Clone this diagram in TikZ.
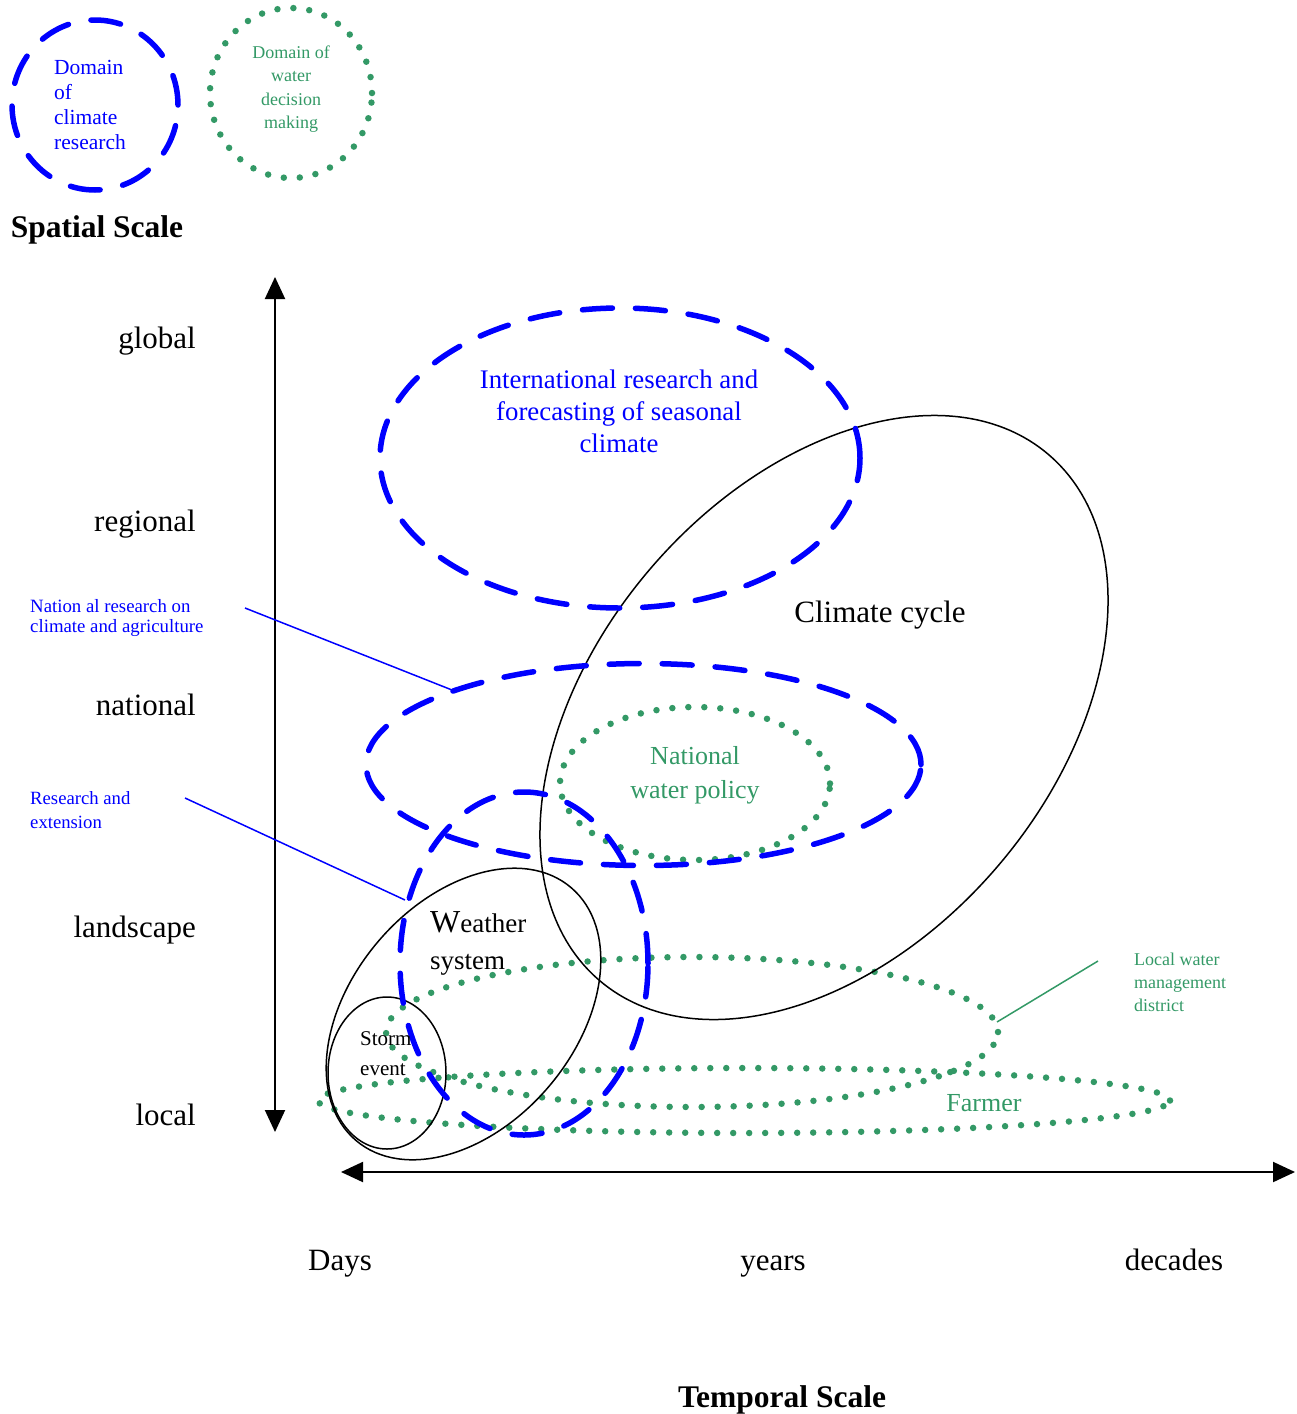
\documentclass[tikz,border=0pt]{standalone}
\usepackage{fontspec}
\setmainfont{Liberation Serif}
\usetikzlibrary{arrows.meta}
\definecolor{wgreen}{RGB}{51,153,102}
\definecolor{cblue}{RGB}{0,0,255}
\tikzset{
  climdash/.style={draw=cblue, line width=5.5pt, line cap=round, dash pattern=on 30pt off 23pt},
  waterdot/.style={draw=wgreen, line width=6.5pt, line cap=round, dash pattern=on 0pt off 16pt},
  scaleell/.style={draw=black, line width=1.5pt},
  leader/.style={draw=cblue, line width=1.5pt},
  gleader/.style={draw=wgreen, line width=1.5pt},
  axisarrow/.style={draw=black, line width=2pt, {Triangle[width=20pt,length=22pt]}-{Triangle[width=20pt,length=22pt]}},
  lbl/.style={inner sep=0pt, font=\fontsize{31}{36}\selectfont},
  ttl/.style={inner sep=0pt, font=\fontsize{31.5}{36}\selectfont\bfseries},
  smallblue/.style={inner sep=0pt, text=cblue, align=left},
  smallgreen/.style={inner sep=0pt, text=wgreen},
}
\begin{document}
\begin{tikzpicture}[x=1pt,y=-1pt]
\useasboundingbox (0,0) rectangle (1297,1414);

% legend
\draw[climdash] (95,105) ellipse [x radius=83pt, y radius=85pt];
\draw[waterdot] (291,93) ellipse [x radius=81pt, y radius=85pt];
\node[smallblue, anchor=west, font=\fontsize{21.5}{25}\selectfont] (legclim) at (54,105) {Domain\\of\\climate\\research};
\node[smallgreen, align=center, font=\fontsize{18}{23.5}\selectfont] (legwater) at (291,89) {Domain of\\water\\decision\\making};
\node[ttl] (spatial) at (97,230) {Spatial Scale};

% axes
\coordinate (vtop) at (275,277);
\coordinate (vbot) at (275,1132);
\coordinate (hleft) at (341,1172);
\coordinate (hright) at (1295,1172);
\draw[axisarrow] (vbot) -- (vtop);
\draw[axisarrow] (hleft) -- (hright);

\node[lbl, anchor=east] (global) at (196,341) {global};
\node[lbl, anchor=east] (regional) at (196,524) {regional};
\node[lbl, anchor=east] (national) at (196,705) {national};
\node[lbl, anchor=east] (landscape) at (196,930) {landscape};
\node[lbl, anchor=east] (local) at (196,1115) {local};

\node[lbl, anchor=base] (days) at (340,1270) {Days};
\node[lbl, anchor=base] (years) at (773,1270) {years};
\node[lbl, anchor=base] (decades) at (1174,1270) {decades};
\node[ttl] (temporal) at (782,1400) {Temporal Scale};

% water decision ellipses (green dotted)
\draw[waterdot] (692,1032) ellipse [x radius=306pt, y radius=75pt];
\draw[waterdot] (744,1100.5) ellipse [x radius=426pt, y radius=32.5pt];
\draw[waterdot] (695,783.5) ellipse [x radius=135pt, y radius=76.5pt];

% scale ellipses (black)
\draw[scaleell, rotate around={49.5:(824,717.5)}] (824,717.5) ellipse [x radius=345.8pt, y radius=228.7pt];
\draw[scaleell, rotate around={49.6:(463.5,1014)}] (463.5,1014) ellipse [x radius=166pt, y radius=112pt];
\draw[scaleell] (387,1073) ellipse [x radius=59pt, y radius=76pt];

% climate research ellipses (blue dashed)
\draw[climdash] (620,458) ellipse [x radius=240pt, y radius=150pt];
\draw[climdash] (643.5,764.5) ellipse [x radius=277.5pt, y radius=101pt];
\draw[climdash] (524,963.5) ellipse [x radius=124pt, y radius=171.5pt];

% texts in ellipses
\node[inner sep=0pt, text=cblue, align=center, font=\fontsize{26.8}{32}\selectfont] (intl) at (619,411) {International research and\\forecasting of seasonal\\climate};
\node[lbl] (climcycle) at (880,615) {Climate cycle};
\node[inner sep=0pt, text=wgreen, align=center, font=\fontsize{26}{34}\selectfont] (nwp) at (695,775) {National\\water policy};
\node[inner sep=0pt, align=left, anchor=west, font=\fontsize{27}{37}\selectfont] (weather) at (430,943) {{\fontsize{32}{37}\selectfont W}eather\\system};
\node[inner sep=0pt, align=left, anchor=west, font=\fontsize{21}{30}\selectfont] (storm) at (360,1054) {Storm\\event};
\node[inner sep=0pt, text=wgreen, font=\fontsize{26}{30}\selectfont] (farmer) at (984,1103) {Farmer};

% side labels and leaders
\node[smallblue, anchor=west, font=\fontsize{18.8}{20}\selectfont] (natres) at (30,618) {Nation al research on\\climate and agriculture};
\node[smallblue, anchor=west, font=\fontsize{18.7}{24}\selectfont] (resext) at (30,810) {Research and\\extension};
\node[smallgreen, align=left, anchor=west, font=\fontsize{18}{23}\selectfont] (lwmd) at (1134,982) {Local water\\management\\district};

\coordinate (natresA) at (245,608);
\coordinate (natresB) at (452,690);
\coordinate (resextA) at (185,798);
\coordinate (resextB) at (405,900);
\coordinate (lwmdA) at (1098,961);
\coordinate (lwmdB) at (997,1022);
\draw[leader] (natresA) -- (natresB);
\draw[leader] (resextA) -- (resextB);
\draw[gleader] (lwmdA) -- (lwmdB);
\end{tikzpicture}
\end{document}
